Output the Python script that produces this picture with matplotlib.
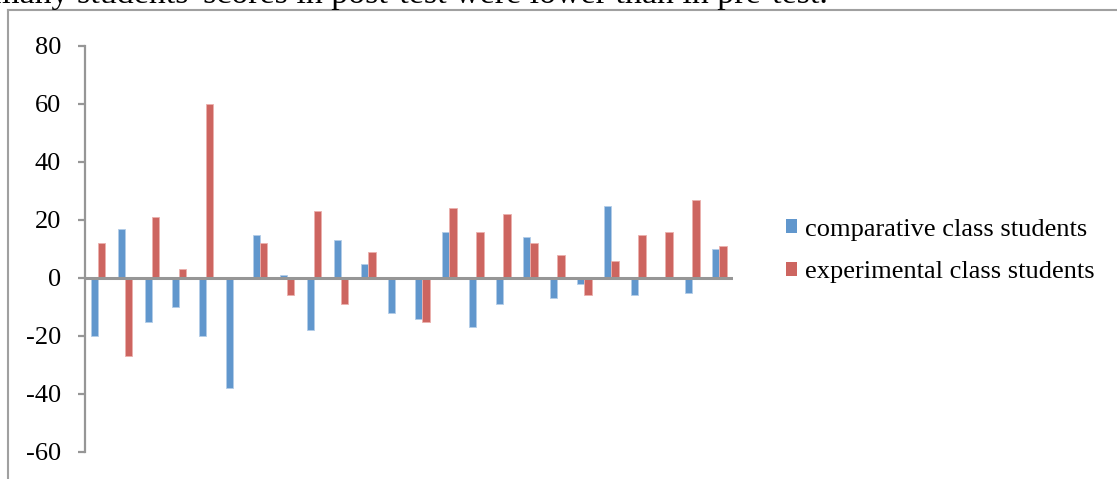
import matplotlib.pyplot as plt
from matplotlib.lines import Line2D
from matplotlib.patches import Patch
import numpy as np

plt.rcParams['font.family'] = ['Liberation Serif', 'DejaVu Serif']

# score change (post-test minus pre-test) per student
comparative = [-20, 17, -15, -10, -20, -38, 15, 1, -18, 13, 5, -12,
               -14, 16, -17, -9, 14, -7, -2, 25, -6, 0, -5, 10]
experimental = [12, -27, 21, 3, 60, 0, 12, -6, 23, -9, 9, 0,
                -15, 24, 16, 22, 12, 8, -6, 6, 15, 16, 27, 11]
series_names = ['comparative class students', 'experimental class students']
yticks = [-60, -40, -20, 0, 20, 40, 60, 80]

blue = '#6197CD'
red = '#CD6560'
grey = '#969696'
size = 19

fig = plt.figure(figsize=(11.17, 4.79), dpi=100)
ax = fig.add_axes([84.5 / 1117, 1 - 452 / 479, (733 - 84.5) / 1117, (452 - 46) / 479])

x = np.arange(len(comparative))
w = 0.27
ax.bar(x - w / 2, comparative, w, color=blue, edgecolor='#B3CDE8', linewidth=0.6)
ax.bar(x + w / 2, experimental, w, color=red, edgecolor='#EBB0AD', linewidth=0.6)
ax.axhline(0, color=grey, linewidth=2.2, zorder=3)

ax.set_xlim(-0.5, len(comparative) - 0.5)
ax.set_ylim(-60, 80)
ax.set_yticks(yticks)
ax.set_yticklabels([str(v) for v in yticks], fontsize=size)
ax.set_xticks([])
for s in ['top', 'right', 'bottom']:
    ax.spines[s].set_visible(False)
ax.spines['left'].set_color(grey)
ax.spines['left'].set_linewidth(1.6)
ax.tick_params(axis='y', direction='out', length=5, width=1.6, color=grey, pad=12)

handles = [Patch(facecolor=blue, edgecolor='none'), Patch(facecolor=red, edgecolor='none')]
fig.legend(handles, series_names, loc='center left', bbox_to_anchor=(762 / 1117, 1 - 251 / 479),
           frameon=False, fontsize=size, handlelength=0.42, handleheight=0.42,
           handletextpad=0.3, labelspacing=0.78)

# surrounding frame and the line of body text above it
fig.add_artist(Line2D([7.5 / 1117, 7.5 / 1117], [0, 1 - 10 / 479], color='#A0A0A0', linewidth=1.5))
fig.add_artist(Line2D([7.5 / 1117, 1], [1 - 10 / 479, 1 - 10 / 479], color='#A0A0A0', linewidth=1.5))
fig.text(-7 / 1117, 1 - 3 / 479, "many students' scores in post-test were lower than in pre-test.",
         fontsize=24.5, va='baseline', ha='left')

fig.savefig('out.png', dpi=100)
